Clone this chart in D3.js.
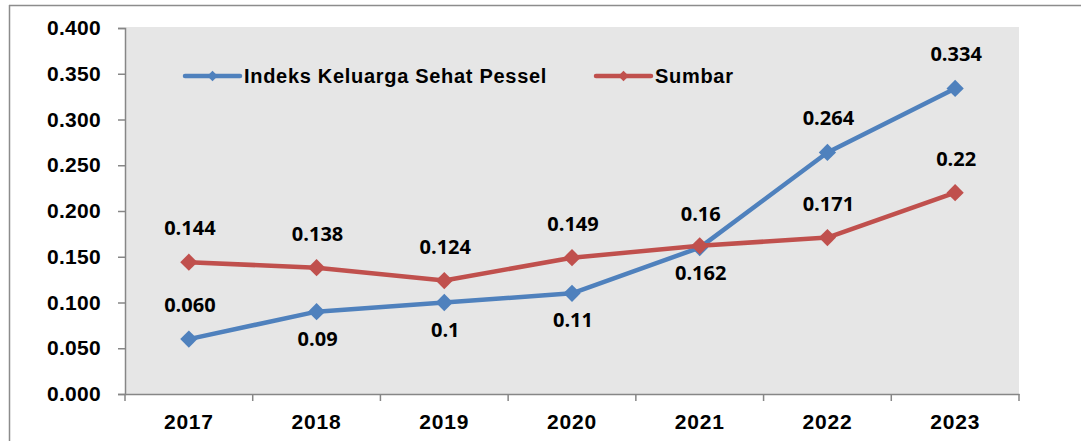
<!DOCTYPE html>
<html>
<head>
<meta charset="utf-8">
<script src="https://cdn.jsdelivr.net/npm/d3@7"></script>
<style>
  body { margin: 0; background: #fff; }
  svg { display: block; }
</style>
</head>
<body>
<svg id="chart" width="1081" height="441"></svg>
<script>
// data
let years = ["2017", "2018", "2019", "2020", "2021", "2022", "2023"]
let pessel = [0.060, 0.09, 0.1, 0.11, 0.16, 0.264, 0.334]
let pesselLabels = ["0.060", "0.09", "0.1", "0.11", "0.16", "0.264", "0.334"]
let sumbar = [0.144, 0.138, 0.124, 0.149, 0.162, 0.171, 0.22]
let sumbarLabels = ["0.144", "0.138", "0.124", "0.149", "0.162", "0.171", "0.22"]
let yTicks = [0, 0.05, 0.1, 0.15, 0.2, 0.25, 0.3, 0.35, 0.4]
let seriesNames = ["Indeks Keluarga Sehat Pessel", "Sumbar"]

let svg = d3.select("#chart")

let plotL = 125, plotR = 1019, plotT = 28, plotB = 394
let axisFont = "Liberation Sans, Arial, sans-serif"

// outer frame (top and left edge only visible)
svg.append("line").attr("x1", 9).attr("x2", 1081).attr("y1", 5.5).attr("y2", 5.5)
    .attr("stroke", "#8c8c8c").attr("stroke-width", 1.5)
svg.append("line").attr("x1", 9.5).attr("x2", 9.5).attr("y1", 5).attr("y2", 441)
    .attr("stroke", "#8c8c8c").attr("stroke-width", 1.5)

let x = d3.scaleBand().domain(years).range([plotL, plotR])
let y = d3.scaleLinear().domain([0, 0.4]).range([plotB, plotT])

svg.append("rect")
    .attr("x", plotL).attr("y", plotT - 1)
    .attr("width", plotR - plotL).attr("height", plotB - plotT + 1)
    .attr("fill", "#e6e6e6")

let yAxis = svg.append("g")
    .attr("transform", `translate(${plotL},0)`)
    .call(d3.axisLeft(y).tickValues(yTicks).tickFormat(d3.format(".3f")).tickSize(7).tickPadding(17))
yAxis.select(".domain").attr("stroke", "#868686").attr("stroke-width", 1.5)
yAxis.selectAll(".tick line").attr("stroke", "#868686").attr("stroke-width", 1.5)
yAxis.selectAll("text")
    .attr("font-family", axisFont)
    .attr("font-weight", "bold").attr("font-size", 21).attr("letter-spacing", 0.3)
    .attr("fill", "#000")

let xAxis = svg.append("g")
    .attr("transform", `translate(0,${plotB})`)
    .call(d3.axisBottom(x).tickSize(0).tickPadding(20))
xAxis.select(".domain").attr("stroke", "#868686").attr("stroke-width", 1.5)
xAxis.selectAll("text")
    .attr("font-family", axisFont)
    .attr("font-weight", "bold").attr("font-size", 21).attr("letter-spacing", 0.8)
    .attr("fill", "#000")

// category boundary ticks
let bounds = years.map(d => x(d)).concat([plotR])
svg.selectAll(".xtick").data(bounds).enter().append("line")
    .attr("x1", d => d).attr("x2", d => d)
    .attr("y1", plotB).attr("y2", plotB + 7)
    .attr("stroke", "#868686").attr("stroke-width", 1.5)

let cx = d => x(d) + x.bandwidth() / 2
let diamond = d3.symbol().type(d3.symbolDiamond2).size(190)

let drawSeries = (values, labels, color, below) => {
    let line = d3.line().x((d, i) => cx(years[i])).y(d => y(d))
    svg.append("path").datum(values)
        .attr("d", line)
        .attr("fill", "none").attr("stroke", color).attr("stroke-width", 4.5)
        .attr("stroke-linejoin", "round")

    svg.selectAll(null).data(values).enter().append("path")
        .attr("d", diamond)
        .attr("transform", (d, i) => `translate(${cx(years[i])},${y(d)})`)
        .attr("fill", color)

    svg.selectAll(null).data(values).enter().append("text")
        .attr("x", (d, i) => cx(years[i]) + 1)
        .attr("y", (d, i) => y(d) + (below(i) ? 34 : -27))
        .attr("text-anchor", "middle")
        .attr("font-family", "Open Sans, Noto Sans, sans-serif")
        .attr("font-weight", "bold").attr("font-size", 20)
        .text((d, i) => labels[i])
}

drawSeries(pessel, pesselLabels, "#4f81bd", i => i >= 1 && i <= 3)
drawSeries(sumbar, sumbarLabels, "#c0504d", i => i == 4)

// legend
let legendColors = ["#4f81bd", "#c0504d"]
let legendX = [185, 596]
seriesNames.forEach((name, i) => {
    let g = svg.append("g").attr("transform", `translate(${legendX[i]},76)`)
    g.append("line").attr("x1", 0).attr("x2", 55).attr("y1", 0).attr("y2", 0)
        .attr("stroke", legendColors[i]).attr("stroke-width", 4.5).attr("stroke-linecap", "round")
    g.append("path").attr("d", d3.symbol().type(d3.symbolDiamond2).size(70))
        .attr("transform", "translate(27.5,0)").attr("fill", legendColors[i])
    g.append("text").attr("x", 59).attr("y", 7)
        .attr("font-family", axisFont)
        .attr("font-weight", "bold").attr("font-size", 20).attr("letter-spacing", 0.7)
        .text(name)
})
</script>
</body>
</html>
